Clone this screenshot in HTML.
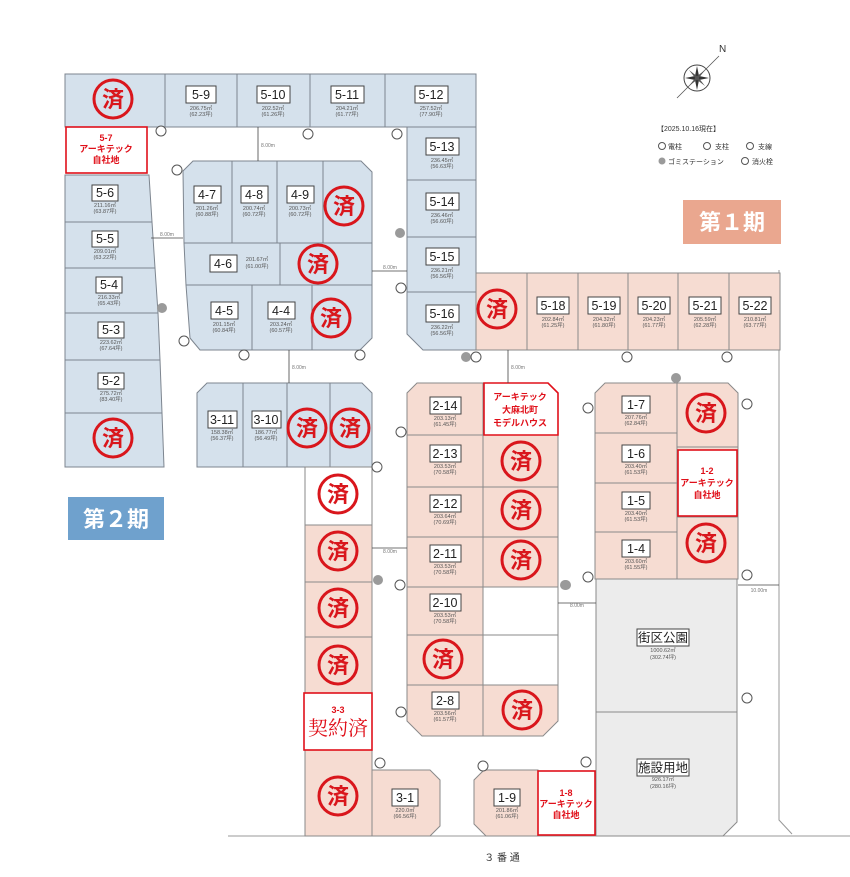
<!DOCTYPE html>
<html><head><meta charset="utf-8"><style>
html,body{margin:0;padding:0;background:#fff;}
svg{display:block;font-family:"Liberation Sans","Noto Sans CJK JP",sans-serif;}
.b{fill:#d5e1ec;stroke:#7d858f;stroke-width:1}
.p{fill:#f6dcd2;stroke:#8a8a8a;stroke-width:1}
.g{fill:#ececec;stroke:#8a8a8a;stroke-width:1}
.w{fill:#fff;stroke:#8a8a8a;stroke-width:1}
.lb{fill:#fff;stroke:#444;stroke-width:1}
.lt{font-size:12.5px;fill:#222;text-anchor:middle;}
.ar{font-size:5.5px;fill:#555;text-anchor:middle;}
.dm{font-size:5px;fill:#777;text-anchor:middle;}
.sc{fill:none;stroke:#d9161c;stroke-width:3}
.st{font-size:22px;font-weight:bold;fill:#d9161c;text-anchor:middle;}
.rb{fill:#fff;stroke:#e0101a;stroke-width:1.6}
.rt{font-size:9px;font-weight:bold;fill:#e0101a;text-anchor:middle;}
.pole{fill:#fff;stroke:#555;stroke-width:1}
.gomi{fill:#9a9a9a}
</style></head><body>
<svg width="850" height="877" viewBox="0 0 850 877" xmlns="http://www.w3.org/2000/svg">
<!-- roads -->
<line x1="228" y1="836" x2="850" y2="836" stroke="#999" stroke-width="1"/>
<polyline points="779,270 779,820 792,834" fill="none" stroke="#999" stroke-width="1"/>

<!-- block 5 top row -->
<rect class="b" x="65" y="74" width="100" height="53"/>
<rect class="b" x="165" y="74" width="72" height="53"/>
<rect class="b" x="237" y="74" width="73" height="53"/>
<rect class="b" x="310" y="74" width="75" height="53"/>
<rect class="b" x="385" y="74" width="91" height="53"/>
<!-- 5-13..5-16 -->
<rect class="b" x="407" y="127" width="69" height="53"/>
<rect class="b" x="407" y="180" width="69" height="57"/>
<rect class="b" x="407" y="237" width="69" height="55"/>
<polygon class="b" points="407,292 476,292 476,350 423,350 407,334"/>
<!-- left column -->
<polygon class="b" points="65,175 149,175 152,222 65,222"/>
<polygon class="b" points="65,222 152,222 155,268 65,268"/>
<polygon class="b" points="65,268 155,268 158,313 65,313"/>
<polygon class="b" points="65,313 158,313 160,360 65,360"/>
<polygon class="b" points="65,360 160,360 162,413 65,413"/>
<polygon class="b" points="65,413 162,413 164,467 65,467"/>
<rect class="rb" x="66" y="127" width="81" height="46"/>
<text class="rt" x="106" y="141">5-7</text><text class="rt" x="106" y="152">アーキテック</text><text class="rt" x="106" y="163">自社地</text>

<!-- block 4 -->
<polygon class="b" points="193,161 232,161 232,243 184,243 183,171"/>
<rect class="b" x="232" y="161" width="45" height="82"/>
<rect class="b" x="277" y="161" width="46" height="82"/>
<polygon class="b" points="323,161 361,161 372,172 372,243 323,243"/>
<polygon class="b" points="184,243 280,243 280,285 186,285"/>
<rect class="b" x="280" y="243" width="92" height="42"/>
<polygon class="b" points="186,285 252,285 252,350 200,350 190,338"/>
<rect class="b" x="252" y="285" width="60" height="65"/>
<polygon class="b" points="312,285 372,285 372,338 360,350 312,350"/>

<!-- 5-17..5-22 -->
<rect class="p" x="476" y="273" width="51" height="77"/>
<rect class="p" x="527" y="273" width="51" height="77"/>
<rect class="p" x="578" y="273" width="50" height="77"/>
<rect class="p" x="628" y="273" width="50" height="77"/>
<rect class="p" x="678" y="273" width="51" height="77"/>
<rect class="p" x="729" y="273" width="51" height="77"/>

<!-- block 3 top blue -->
<polygon class="b" points="207,383 243,383 243,467 197,467 197,393"/>
<rect class="b" x="243" y="383" width="44" height="84"/>
<rect class="b" x="287" y="383" width="43" height="84"/>
<polygon class="b" points="330,383 362,383 372,393 372,467 330,467"/>
<!-- column 3 -->
<rect class="w" x="305" y="467" width="67" height="58"/>
<rect class="p" x="305" y="525" width="67" height="57"/>
<rect class="p" x="305" y="582" width="67" height="55"/>
<rect class="p" x="305" y="637" width="67" height="56"/>
<rect class="p" x="305" y="750" width="67" height="86"/>
<rect class="rb" x="304" y="693" width="68" height="57"/>
<text class="rt" x="338" y="713">3-3</text>
<text x="338" y="735" font-size="20" fill="#e0101a" text-anchor="middle" font-family="'Noto Serif CJK SC',serif">契約済</text>
<polygon class="p" points="372,770 430,770 440,780 440,826 430,836 372,836"/>

<!-- block 2 -->
<polygon class="p" points="417,383 483,383 483,435 407,435 407,393"/>
<rect class="p" x="407" y="435" width="76" height="52"/>
<rect class="p" x="483" y="435" width="75" height="52"/>
<rect class="p" x="407" y="487" width="76" height="50"/>
<rect class="p" x="483" y="487" width="75" height="50"/>
<rect class="p" x="407" y="537" width="76" height="50"/>
<rect class="p" x="483" y="537" width="75" height="50"/>
<rect class="p" x="407" y="587" width="76" height="48"/>
<rect class="w" x="483" y="587" width="75" height="48"/>
<rect class="p" x="407" y="635" width="76" height="50"/>
<rect class="w" x="483" y="635" width="75" height="50"/>
<polygon class="p" points="407,685 483,685 483,736 422,736 407,721"/>
<polygon class="p" points="483,685 558,685 558,721 543,736 483,736"/>
<polygon class="rb" points="484,383 548,383 558,393 558,435 484,435"/>
<text class="rt" x="520" y="400">アーキテック</text><text class="rt" x="520" y="413">大麻北町</text><text class="rt" x="520" y="426">モデルハウス</text>

<!-- block 1 -->
<polygon class="p" points="605,383 677,383 677,433 595,433 595,393"/>
<polygon class="p" points="677,383 728,383 738,393 738,447 677,447"/>
<rect class="p" x="595" y="433" width="82" height="50"/>
<rect class="p" x="595" y="483" width="82" height="49"/>
<rect class="p" x="595" y="532" width="82" height="47"/>
<rect class="p" x="677" y="517" width="61" height="62"/>
<rect class="p" x="677" y="447" width="61" height="70"/>
<rect class="rb" x="678" y="450" width="59" height="66"/>
<text class="rt" x="707" y="474">1-2</text><text class="rt" x="707" y="486">アーキテック</text><text class="rt" x="707" y="498">自社地</text>

<!-- park -->
<rect class="g" x="596" y="579" width="141" height="133"/>
<polygon class="g" points="596,712 737,712 737,822 723,836 596,836"/>
<rect class="lb" x="637" y="629" width="52" height="17"/><text class="lt" x="663" y="642" font-size="11">街区公園</text>
<text class="ar" x="663" y="652">1000.62㎡</text><text class="ar" x="663" y="659">(302.74坪)</text>
<rect class="lb" x="637" y="759" width="52" height="17"/><text class="lt" x="663" y="772" font-size="11">施設用地</text>
<text class="ar" x="663" y="781">926.17㎡</text><text class="ar" x="663" y="788">(280.16坪)</text>

<!-- 1-9 / 1-8 -->
<polygon class="p" points="484,770 538,770 538,836 486,836 474,824 474,780"/>
<rect class="rb" x="538" y="771" width="57" height="64"/>
<text class="rt" x="566" y="796">1-8</text><text class="rt" x="566" y="807">アーキテック</text><text class="rt" x="566" y="818">自社地</text>

<!-- lot labels -->
<g>
<rect class="lb" x="186" y="86" width="30" height="17"/><text class="lt" x="201" y="99">5-9</text><text class="ar" x="201" y="110">206.75㎡</text><text class="ar" x="201" y="116">(62.23坪)</text>
<rect class="lb" x="257" y="86" width="33" height="17"/><text class="lt" x="273" y="99">5-10</text><text class="ar" x="273" y="110">202.52㎡</text><text class="ar" x="273" y="116">(61.26坪)</text>
<rect class="lb" x="331" y="86" width="33" height="17"/><text class="lt" x="347" y="99">5-11</text><text class="ar" x="347" y="110">204.21㎡</text><text class="ar" x="347" y="116">(61.77坪)</text>
<rect class="lb" x="415" y="86" width="33" height="17"/><text class="lt" x="431" y="99">5-12</text><text class="ar" x="431" y="110">257.52㎡</text><text class="ar" x="431" y="116">(77.90坪)</text>
<rect class="lb" x="426" y="138" width="33" height="17"/><text class="lt" x="442" y="151">5-13</text><text class="ar" x="442" y="162">236.45㎡</text><text class="ar" x="442" y="168">(56.63坪)</text>
<rect class="lb" x="426" y="193" width="33" height="17"/><text class="lt" x="442" y="206">5-14</text><text class="ar" x="442" y="217">236.46㎡</text><text class="ar" x="442" y="223">(56.60坪)</text>
<rect class="lb" x="426" y="248" width="33" height="17"/><text class="lt" x="442" y="261">5-15</text><text class="ar" x="442" y="272">236.21㎡</text><text class="ar" x="442" y="278">(56.56坪)</text>
<rect class="lb" x="426" y="305" width="33" height="17"/><text class="lt" x="442" y="318">5-16</text><text class="ar" x="442" y="329">236.22㎡</text><text class="ar" x="442" y="335">(56.56坪)</text>
<rect class="lb" x="92" y="185" width="26" height="16"/><text class="lt" x="105" y="197">5-6</text><text class="ar" x="105" y="207">211.16㎡</text><text class="ar" x="105" y="213">(63.87坪)</text>
<rect class="lb" x="92" y="231" width="26" height="16"/><text class="lt" x="105" y="243">5-5</text><text class="ar" x="105" y="253">209.01㎡</text><text class="ar" x="105" y="259">(63.22坪)</text>
<rect class="lb" x="96" y="277" width="26" height="16"/><text class="lt" x="109" y="289">5-4</text><text class="ar" x="109" y="299">216.33㎡</text><text class="ar" x="109" y="305">(65.43坪)</text>
<rect class="lb" x="98" y="322" width="26" height="16"/><text class="lt" x="111" y="334">5-3</text><text class="ar" x="111" y="344">223.62㎡</text><text class="ar" x="111" y="350">(67.64坪)</text>
<rect class="lb" x="98" y="373" width="26" height="16"/><text class="lt" x="111" y="385">5-2</text><text class="ar" x="111" y="395">275.72㎡</text><text class="ar" x="111" y="401">(83.40坪)</text>
<rect class="lb" x="194" y="186" width="27" height="17"/><text class="lt" x="207" y="199">4-7</text><text class="ar" x="207" y="210">201.26㎡</text><text class="ar" x="207" y="216">(60.88坪)</text>
<rect class="lb" x="241" y="186" width="27" height="17"/><text class="lt" x="254" y="199">4-8</text><text class="ar" x="254" y="210">200.74㎡</text><text class="ar" x="254" y="216">(60.72坪)</text>
<rect class="lb" x="287" y="186" width="27" height="17"/><text class="lt" x="300" y="199">4-9</text><text class="ar" x="300" y="210">200.73㎡</text><text class="ar" x="300" y="216">(60.72坪)</text>
<rect class="lb" x="210" y="255" width="27" height="17"/><text class="lt" x="223" y="268">4-6</text><text class="ar" x="257" y="261">201.67㎡</text><text class="ar" x="257" y="268">(61.00坪)</text>
<rect class="lb" x="211" y="302" width="27" height="17"/><text class="lt" x="224" y="315">4-5</text><text class="ar" x="224" y="326">201.15㎡</text><text class="ar" x="224" y="332">(60.84坪)</text>
<rect class="lb" x="268" y="302" width="27" height="17"/><text class="lt" x="281" y="315">4-4</text><text class="ar" x="281" y="326">203.24㎡</text><text class="ar" x="281" y="332">(60.57坪)</text>
<rect class="lb" x="537" y="297" width="32" height="17"/><text class="lt" x="553" y="310">5-18</text><text class="ar" x="553" y="321">202.84㎡</text><text class="ar" x="553" y="327">(61.25坪)</text>
<rect class="lb" x="588" y="297" width="32" height="17"/><text class="lt" x="604" y="310">5-19</text><text class="ar" x="604" y="321">204.32㎡</text><text class="ar" x="604" y="327">(61.80坪)</text>
<rect class="lb" x="638" y="297" width="32" height="17"/><text class="lt" x="654" y="310">5-20</text><text class="ar" x="654" y="321">204.23㎡</text><text class="ar" x="654" y="327">(61.77坪)</text>
<rect class="lb" x="689" y="297" width="32" height="17"/><text class="lt" x="705" y="310">5-21</text><text class="ar" x="705" y="321">205.59㎡</text><text class="ar" x="705" y="327">(62.28坪)</text>
<rect class="lb" x="739" y="297" width="32" height="17"/><text class="lt" x="755" y="310">5-22</text><text class="ar" x="755" y="321">210.81㎡</text><text class="ar" x="755" y="327">(63.77坪)</text>
<rect class="lb" x="208" y="411" width="29" height="17"/><text class="lt" x="222" y="424">3-11</text><text class="ar" x="222" y="434">158.38㎡</text><text class="ar" x="222" y="440">(56.37坪)</text>
<rect class="lb" x="252" y="411" width="29" height="17"/><text class="lt" x="266" y="424">3-10</text><text class="ar" x="266" y="434">186.77㎡</text><text class="ar" x="266" y="440">(56.49坪)</text>
<rect class="lb" x="430" y="397" width="31" height="17"/><text class="lt" x="445" y="410">2-14</text><text class="ar" x="445" y="420">203.13㎡</text><text class="ar" x="445" y="426">(61.45坪)</text>
<rect class="lb" x="430" y="445" width="31" height="17"/><text class="lt" x="445" y="458">2-13</text><text class="ar" x="445" y="468">203.53㎡</text><text class="ar" x="445" y="474">(70.58坪)</text>
<rect class="lb" x="430" y="495" width="31" height="17"/><text class="lt" x="445" y="508">2-12</text><text class="ar" x="445" y="518">203.64㎡</text><text class="ar" x="445" y="524">(70.69坪)</text>
<rect class="lb" x="430" y="545" width="31" height="17"/><text class="lt" x="445" y="558">2-11</text><text class="ar" x="445" y="568">203.53㎡</text><text class="ar" x="445" y="574">(70.58坪)</text>
<rect class="lb" x="430" y="594" width="31" height="17"/><text class="lt" x="445" y="607">2-10</text><text class="ar" x="445" y="617">203.53㎡</text><text class="ar" x="445" y="623">(70.58坪)</text>
<rect class="lb" x="432" y="692" width="27" height="17"/><text class="lt" x="445" y="705">2-8</text><text class="ar" x="445" y="715">203.56㎡</text><text class="ar" x="445" y="721">(61.57坪)</text>
<rect class="lb" x="622" y="396" width="28" height="17"/><text class="lt" x="636" y="409">1-7</text><text class="ar" x="636" y="419">207.76㎡</text><text class="ar" x="636" y="425">(62.84坪)</text>
<rect class="lb" x="622" y="445" width="28" height="17"/><text class="lt" x="636" y="458">1-6</text><text class="ar" x="636" y="468">203.40㎡</text><text class="ar" x="636" y="474">(61.53坪)</text>
<rect class="lb" x="622" y="492" width="28" height="17"/><text class="lt" x="636" y="505">1-5</text><text class="ar" x="636" y="515">203.40㎡</text><text class="ar" x="636" y="521">(61.53坪)</text>
<rect class="lb" x="622" y="540" width="28" height="17"/><text class="lt" x="636" y="553">1-4</text><text class="ar" x="636" y="563">203.60㎡</text><text class="ar" x="636" y="569">(61.55坪)</text>
<rect class="lb" x="392" y="789" width="26" height="17"/><text class="lt" x="405" y="802">3-1</text><text class="ar" x="405" y="812">220.0㎡</text><text class="ar" x="405" y="818">(66.56坪)</text>
<rect class="lb" x="494" y="789" width="26" height="17"/><text class="lt" x="507" y="802">1-9</text><text class="ar" x="507" y="812">201.86㎡</text><text class="ar" x="507" y="818">(61.06坪)</text>
</g>

<!-- stamps -->
<g>
<circle class="sc" cx="113" cy="99" r="19"/><text class="st" x="113" y="107">済</text>
<circle class="sc" cx="344" cy="206" r="19"/><text class="st" x="344" y="214">済</text>
<circle class="sc" cx="318" cy="264" r="19"/><text class="st" x="318" y="272">済</text>
<circle class="sc" cx="331" cy="318" r="19"/><text class="st" x="331" y="326">済</text>
<circle class="sc" cx="113" cy="438" r="19"/><text class="st" x="113" y="446">済</text>
<circle class="sc" cx="497" cy="309" r="19"/><text class="st" x="497" y="317">済</text>
<circle class="sc" cx="307" cy="428" r="19"/><text class="st" x="307" y="436">済</text>
<circle class="sc" cx="350" cy="428" r="19"/><text class="st" x="350" y="436">済</text>
<circle class="sc" cx="338" cy="494" r="19"/><text class="st" x="338" y="502">済</text>
<circle class="sc" cx="338" cy="551" r="19"/><text class="st" x="338" y="559">済</text>
<circle class="sc" cx="338" cy="608" r="19"/><text class="st" x="338" y="616">済</text>
<circle class="sc" cx="338" cy="665" r="19"/><text class="st" x="338" y="673">済</text>
<circle class="sc" cx="338" cy="796" r="19"/><text class="st" x="338" y="804">済</text>
<circle class="sc" cx="521" cy="461" r="19"/><text class="st" x="521" y="469">済</text>
<circle class="sc" cx="521" cy="510" r="19"/><text class="st" x="521" y="518">済</text>
<circle class="sc" cx="521" cy="560" r="19"/><text class="st" x="521" y="568">済</text>
<circle class="sc" cx="443" cy="659" r="19"/><text class="st" x="443" y="667">済</text>
<circle class="sc" cx="522" cy="710" r="19"/><text class="st" x="522" y="718">済</text>
<circle class="sc" cx="706" cy="413" r="19"/><text class="st" x="706" y="421">済</text>
<circle class="sc" cx="706" cy="543" r="19"/><text class="st" x="706" y="551">済</text>
</g>

<!-- road widths -->
<g stroke="#444" stroke-width="0.8">
<line x1="258" y1="127" x2="258" y2="161"/><line x1="151" y1="238" x2="183" y2="238"/>
<line x1="372" y1="271" x2="407" y2="271"/><line x1="289" y1="350" x2="289" y2="383"/>
<line x1="508" y1="350" x2="508" y2="383"/><line x1="372" y1="548" x2="407" y2="548"/>
<line x1="558" y1="603" x2="596" y2="603"/><line x1="738" y1="585" x2="779" y2="585"/>
</g>
<g class="dm"><text x="268" y="147">8.00m</text><text x="167" y="236">8.00m</text><text x="390" y="269">8.00m</text><text x="299" y="369">8.00m</text><text x="518" y="369">8.00m</text><text x="390" y="553">8.00m</text><text x="577" y="607">8.00m</text><text x="759" y="592">10.00m</text></g>

<!-- poles / gomi -->
<g>
<circle class="pole" cx="161" cy="131" r="5"/><circle class="pole" cx="308" cy="134" r="5"/><circle class="pole" cx="397" cy="134" r="5"/>
<circle class="pole" cx="177" cy="170" r="5"/><circle class="pole" cx="184" cy="341" r="5"/><circle class="pole" cx="244" cy="355" r="5"/><circle class="pole" cx="360" cy="355" r="5"/>
<circle class="pole" cx="401" cy="288" r="5"/><circle class="pole" cx="236" cy="356" r="0"/>
<circle class="gomi" cx="400" cy="233" r="5"/><circle class="gomi" cx="162" cy="308" r="5"/><circle class="gomi" cx="466" cy="357" r="5"/>
<circle class="pole" cx="476" cy="357" r="5"/><circle class="pole" cx="627" cy="357" r="5"/><circle class="pole" cx="727" cy="357" r="5"/>
<circle class="gomi" cx="676" cy="378" r="5"/><circle class="pole" cx="588" cy="408" r="5"/><circle class="pole" cx="747" cy="404" r="5"/>
<circle class="pole" cx="401" cy="432" r="5"/><circle class="pole" cx="377" cy="467" r="5"/><circle class="pole" cx="588" cy="577" r="5"/>
<circle class="gomi" cx="378" cy="580" r="5"/><circle class="pole" cx="400" cy="585" r="5"/><circle class="gomi" cx="566" cy="585" r="5"/>
<circle class="pole" cx="747" cy="575" r="5"/><circle class="gomi" cx="565" cy="585" r="5"/>
<circle class="pole" cx="401" cy="712" r="5"/><circle class="pole" cx="747" cy="698" r="5"/><circle class="pole" cx="380" cy="763" r="5"/>
<circle class="pole" cx="483" cy="766" r="5"/><circle class="pole" cx="586" cy="762" r="5"/>
</g>

<!-- compass -->
<g transform="translate(697,78)">
<circle r="13" fill="none" stroke="#444" stroke-width="1"/>
<line x1="-20" y1="20" x2="22" y2="-22" stroke="#555" stroke-width="0.8"/>
<polygon points="0,-12 2,-2 12,0 2,2 0,12 -2,2 -12,0 -2,-2" fill="#333"/>
<polygon points="-8,-8 1,-1 8,8 -1,1" fill="#555"/><polygon points="8,-8 1,1 -8,8 -1,-1" fill="#555"/>
<text x="22" y="-26" font-size="10" fill="#333">N</text>
</g>
<!-- legend -->
<g font-size="7" fill="#333">
<text x="657" y="131">【2025.10.16現在】</text>
<circle cx="662" cy="146" r="3.5" class="pole"/><text x="668" y="149">電柱</text>
<circle cx="707" cy="146" r="3.5" class="pole"/><text x="715" y="149">支柱</text>
<circle cx="750" cy="146" r="3.5" class="pole"/><text x="758" y="149">支線</text>
<circle cx="662" cy="161" r="3.5" class="gomi"/><text x="668" y="164">ゴミステーション</text>
<circle cx="745" cy="161" r="3.5" class="pole" stroke-width="2"/><text x="752" y="164">消火栓</text>
</g>
<!-- phase boxes -->
<rect x="683" y="200" width="98" height="44" fill="#eaa78f"/><text x="732" y="230" font-size="22" font-weight="bold" fill="#fff" text-anchor="middle">第１期</text>
<rect x="68" y="497" width="96" height="43" fill="#6fa1cd"/><text x="116" y="527" font-size="22" font-weight="bold" fill="#fff" text-anchor="middle">第２期</text>
<text x="502" y="861" font-size="10" fill="#333" text-anchor="middle">３ 番 通</text>
</svg>
</body></html>
